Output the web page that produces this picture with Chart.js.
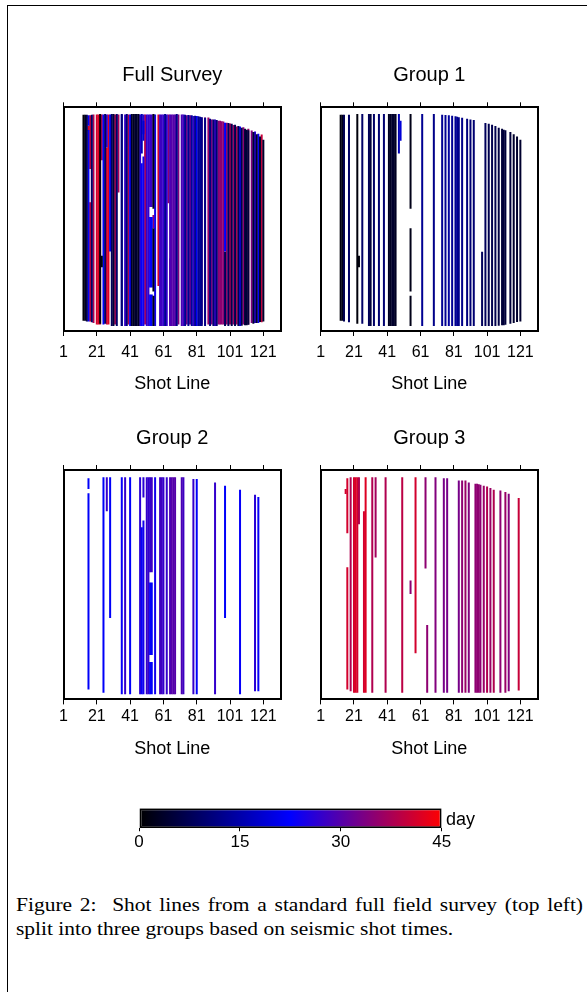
<!DOCTYPE html>
<html>
<head>
<meta charset="utf-8">
<script src="https://cdn.jsdelivr.net/npm/chart.js@4/dist/chart.umd.min.js"></script>
<style>
  body { margin: 0; background: #fff; }
  #page { position: relative; width: 587px; height: 992px; overflow: hidden; font-family: "Liberation Sans", Arial, sans-serif; }
  #frame { position: absolute; left: 7px; top: 5px; right: -10px; bottom: -10px; border-top: 1.5px solid #000; border-left: 1.5px solid #000; }
  canvas { position: absolute; }
  #day { position: absolute; left: 446px; top: 810px; font-size: 18px; line-height: 18px; color: #000; }
  #caption { position: absolute; left: 16px; top: 893px; width: 501.8px; font-family: "Liberation Serif", "Times New Roman", serif;
             font-size: 19px; line-height: 24px; color: #000; transform: scaleX(1.13); transform-origin: 0 0; }
  #caption .l1 { text-align: justify; text-align-last: justify; }
</style>
</head>
<body>
<div id="page">
  <div id="frame"></div>
  <canvas id="full" width="280" height="350" style="left:20px;top:50px"></canvas>
  <canvas id="g1" width="260" height="350" style="left:300px;top:50px"></canvas>
  <canvas id="g2" width="280" height="355" style="left:20px;top:410px"></canvas>
  <canvas id="g3" width="260" height="355" style="left:300px;top:410px"></canvas>
  <canvas id="cbar" width="420" height="70" style="left:100px;top:790px"></canvas>
  <span id="day">day</span>
  <div id="caption">
    <div class="l1">Figure 2:&nbsp; Shot lines from a standard full field survey (top left)</div>
    <div>split into three groups based on seismic shot times.</div>
  </div>
</div>

<script>
// ------------------------------------------------------
// DATA
// ------------------------------------------------------
const shotTicks = [1, 21, 41, 61, 81, 101, 121];
const dayTicks = [0, 15, 30, 45];

// colour scale: day -> rgb
const cmapDays = [0, 22.5, 45];
const cmapColors = [[0, 0, 0], [0, 0, 255], [255, 0, 0]];

// segments: [shot line, bottom, top, day]  (bottom/top in % of panel height)
const group1 = [
  [13, 4.6, 96.7, 1], [14, 4.6, 96.7, 2], [15, 4.2, 96.7, 7], [18, 3.9, 96.7, 9],
  [23, 3.2, 97, 1], [24, 28.5, 33.6, 1], [26, 3.2, 97, 9], [30, 2.2, 97, 8],
  [31, 2.2, 97, 5], [33, 2.2, 97, 9], [36, 2.2, 97, 10], [39, 2.2, 97, 10],
  [42, 2.2, 97, 3], [43, 2.2, 97, 3], [44, 2.2, 97, 4], [45, 2.2, 97, 4],
  [46, 2.2, 97, 3], [48, 79.3, 97, 16], [49, 85, 94, 19],
  [55, 54.6, 97, 2], [55, 17.7, 45.9, 2], [55, 2.2, 15.8, 2],
  [62, 2.2, 97, 13], [69, 2.2, 97, 12], [74, 2.2, 96.7, 13], [76, 2.2, 96.6, 13],
  [78, 2.2, 96.4, 14], [80, 2.2, 96.2, 13], [82, 2.2, 96, 13], [83, 2.2, 95.8, 13],
  [84, 2.2, 95.6, 12], [86, 2.2, 95.3, 12], [89, 2.2, 94.9, 11], [91, 2.2, 94.6, 10],
  [93, 2.2, 94.3, 10], [98, 2.2, 35.4, 8], [100, 2.2, 93, 8], [102, 2.2, 92.6, 7],
  [104, 2.2, 92.2, 7], [106, 2.2, 91.6, 7], [108, 2.4, 90.9, 6], [110, 2.6, 90.4, 5],
  [111, 2.6, 90, 5], [112, 2.8, 89.7, 5], [115, 3.2, 89, 5], [117, 3.6, 88, 4],
  [119, 4, 87, 4], [121, 4.3, 85.5, 4]
];

const group2 = [
  [16, 91.7, 96.4, 22], [16, 4.3, 89.9, 22], [25, 2.9, 96.8, 22], [27, 82, 96.8, 27],
  [29, 35.5, 96.8, 22], [36, 2.2, 96.8, 23], [38, 2.2, 96.8, 27], [41, 2.2, 96.8, 22],
  [47, 2.2, 96.8, 26], [48, 2.2, 75, 23], [49, 2.2, 78, 24], [49, 88, 96.8, 26],
  [51, 2.2, 96.8, 27], [52, 2.2, 96.8, 27],
  [53, 55.4, 96.8, 27], [53, 19.4, 51, 23], [53, 2.2, 16.3, 23],
  [54, 55.4, 96.8, 28], [54, 19.4, 51, 22], [54, 2.2, 16.3, 22],
  [56, 2.2, 96.8, 24], [59, 2.2, 96.8, 28], [60, 2.2, 96.8, 28], [61, 2.2, 96.8, 27],
  [63, 2.2, 96.8, 27], [65, 2.2, 96.8, 29], [66, 2.2, 96.8, 30], [67, 2.2, 96.8, 30],
  [68, 2.2, 96.8, 30], [72, 2.2, 96.8, 29], [73, 2.2, 96.8, 28], [79, 2.2, 96.1, 27],
  [81, 2.2, 96.1, 22], [92, 2.2, 94.5, 27], [98, 35.5, 93.1, 22], [107, 2.2, 91.4, 23],
  [116, 3.6, 89.2, 26], [118, 3.6, 88.2, 23]
];

const group3 = [
  [16, 89.5, 91.7, 41], [17, 72.4, 96.4, 41], [17, 4.3, 57.6, 41], [19, 3.6, 96.8, 38],
  [21, 2.9, 96.8, 41], [22, 2.9, 96.8, 42], [23, 2.9, 96.8, 41], [24, 76.3, 96.8, 38],
  [27, 2.9, 82, 41], [28, 2.9, 96.8, 42], [32, 2.9, 96.8, 38], [34, 61.9, 96.8, 37],
  [40, 2.9, 96.8, 38], [50, 2.9, 96.8, 39], [55, 46, 51.8, 35], [58, 20.1, 96.8, 41],
  [64, 57.1, 96.8, 35], [65, 2.9, 32.4, 35], [70, 2.9, 96.8, 34], [75, 2.9, 96.4, 33],
  [77, 2.9, 96.4, 33], [84, 2.9, 95.4, 33], [86, 2.9, 95.4, 35], [88, 2.9, 95.4, 36],
  [90, 2.9, 94.5, 34], [94, 2.9, 94, 35], [95, 2.9, 94, 35], [96, 2.9, 93.8, 35],
  [97, 2.9, 93.6, 35], [99, 2.9, 93.1, 36], [101, 2.9, 92.8, 38], [103, 2.9, 92.1, 36],
  [105, 2.9, 91.4, 38], [109, 2.9, 91.1, 35], [112, 2.9, 90.4, 36], [114, 3.6, 89.6, 34],
  [120, 3.9, 87.8, 40]
];

// ------------------------------------------------------
// HELPERS
// ------------------------------------------------------
const FONT = '"Liberation Sans", Arial, sans-serif';

function rgb(c) { return `rgb(${Math.round(c[0])},${Math.round(c[1])},${Math.round(c[2])})`; }

function dayColor(d) {
  for (let i = 1; i < cmapDays.length; i++) {
    if (d <= cmapDays[i]) {
      const t = (d - cmapDays[i - 1]) / (cmapDays[i] - cmapDays[i - 1]);
      const a = cmapColors[i - 1], b = cmapColors[i];
      return rgb([a[0] + (b[0] - a[0]) * t, a[1] + (b[1] - a[1]) * t, a[2] + (b[2] - a[2]) * t]);
    }
  }
  return rgb(cmapColors[cmapColors.length - 1]);
}

const setTicks = vals => axis => { axis.ticks = vals.map(v => ({ value: v })); };

// layout per row / column (px)
const rowTop = { padTop: 13, titleGap: 15.3, tickPad: 6.8, titleTop: 5.6, padBottom: 5.2 };
const rowBottom = { padTop: 16.5, titleGap: 14.5, tickPad: 2.8, titleTop: 10.7, padBottom: 4.7 };
const colLeft = { padLeft: 43.5, padRight: 19 };
const colRight = { padLeft: 20.7, padRight: 22 };

function makePanel(id, title, groups, row, col) {
  const frameBorder = { display: true, color: "#000", width: 2 };
  const xAxis = (position) => ({
    type: "linear", position, axis: "x", min: 1, max: 131.6, offset: false,
    afterBuildTicks: setTicks(shotTicks),
    grid: { drawOnChartArea: false, drawTicks: true, tickLength: 5, color: "#000", lineWidth: 1, offset: false },
    border: frameBorder
  });
  const bottom = xAxis("bottom");
  bottom.ticks = { color: "#000", font: { family: FONT, size: 16 }, padding: row.tickPad, maxRotation: 0, autoSkip: false };
  bottom.title = { display: true, text: "Shot Line", color: "#000", font: { family: FONT, size: 18 }, padding: { top: row.titleTop - 1.2, bottom: 0 } };
  const top = xAxis("top");
  top.ticks = { display: false };

  const yAxis = (position) => ({
    type: "linear", position, axis: "y", min: 0, max: 100,
    ticks: { display: false },
    grid: { display: false, drawTicks: false },
    border: frameBorder
  });

  new Chart(document.getElementById(id), {
    type: "bar",
    data: {
      datasets: groups.map(seg => ({
        data: seg.map(s => ({ x: s[0], y: [s[1], s[2]] })),
        backgroundColor: seg.map(s => dayColor(s[3])),
        barThickness: 2,
        grouped: false,
        borderWidth: 0,
        inflateAmount: 0
      }))
    },
    options: {
      responsive: false,
      animation: false,
      events: [],
      layout: { padding: { top: row.padTop, bottom: row.padBottom, left: col.padLeft, right: col.padRight } },
      plugins: {
        legend: { display: false },
        tooltip: { enabled: false },
        title: { display: true, text: title, color: "#000", font: { family: FONT, size: 20, weight: "normal" }, padding: { top: 0, bottom: row.titleGap } }
      },
      scales: { x: bottom, xTop: top, y: yAxis("left"), yRight: yAxis("right") }
    }
  });
}

// ------------------------------------------------------
// PANELS
// ------------------------------------------------------
makePanel("full", "Full Survey", [group1, group2, group3], rowTop, colLeft);
makePanel("g1", "Group 1", [group1], rowTop, colRight);
makePanel("g2", "Group 2", [group2], rowBottom, colLeft);
makePanel("g3", "Group 3", [group3], rowBottom, colRight);

// ------------------------------------------------------
// COLOUR BAR
// ------------------------------------------------------
new Chart(document.getElementById("cbar"), {
  type: "bar",
  data: {
    labels: ["day"],
    datasets: [{
      data: [[dayTicks[0], dayTicks[dayTicks.length - 1]]],
      backgroundColor: (c) => {
        const area = c.chart.chartArea;
        if (!area) return "#000";
        const g = c.chart.ctx.createLinearGradient(area.left, 0, area.right, 0);
        cmapDays.forEach((d, i) => g.addColorStop(d / 45, rgb(cmapColors[i])));
        return g;
      },
      borderColor: "#000",
      borderWidth: 2,
      borderSkipped: false,
      barPercentage: 1,
      categoryPercentage: 1,
      inflateAmount: 0
    }]
  },
  options: {
    indexAxis: "y",
    responsive: false,
    animation: false,
    events: [],
    layout: { padding: { top: 18.3, bottom: 11.8, left: 39, right: 78.3 } },
    plugins: { legend: { display: false }, tooltip: { enabled: false } },
    scales: {
      x: {
        type: "linear", min: 0, max: 45,
        afterBuildTicks: setTicks(dayTicks),
        grid: { drawOnChartArea: false, drawTicks: true, tickLength: 3, color: "#000" },
        border: { display: false },
        ticks: { color: "#000", font: { family: FONT, size: 17 }, padding: 0.8, maxRotation: 0, autoSkip: false }
      },
      y: { display: false }
    }
  }
});
</script>
</body>
</html>
